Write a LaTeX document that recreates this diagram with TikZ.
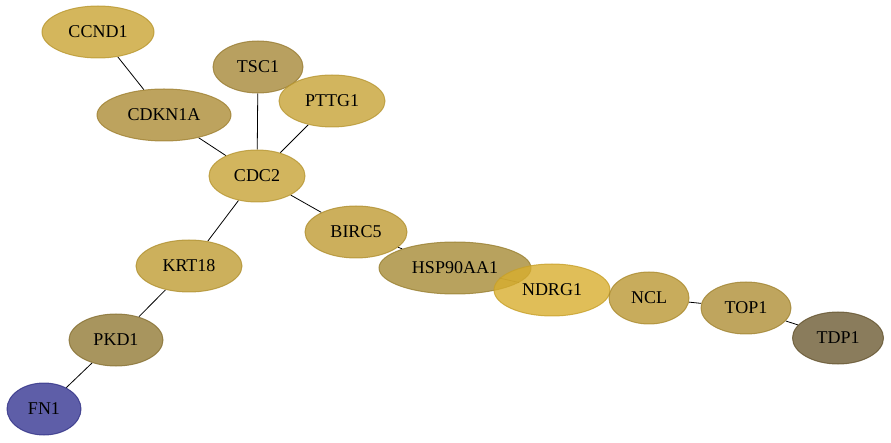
\documentclass[tikz,border=0pt]{standalone}
\usepackage{fontspec}
\setmainfont{Liberation Serif}
\usetikzlibrary{shapes.geometric, backgrounds}

\definecolor{cCCND1}{RGB}{201,164,51}
\definecolor{cTSC1}{RGB}{166,136,56}
\definecolor{cPTTG1}{RGB}{199,163,54}
\definecolor{cCDKN1A}{RGB}{173,140,54}
\definecolor{cCDC2}{RGB}{199,163,54}
\definecolor{cBIRC5}{RGB}{191,155,51}
\definecolor{cHSP}{RGB}{166,139,54}
\definecolor{cNDRG1}{RGB}{216,174,46}
\definecolor{cNCL}{RGB}{186,151,51}
\definecolor{cTOP1}{RGB}{175,143,54}
\definecolor{cTDP1}{RGB}{109,91,51}
\definecolor{cKRT18}{RGB}{191,156,51}
\definecolor{cPKD1}{RGB}{146,122,54}
\definecolor{cFN1}{RGB}{54,54,146}

\begin{document}
\begin{tikzpicture}[x=1pt, y=-1pt, gene/.style={ellipse, inner sep=0pt, minimum height=52pt, fill opacity=0.8, draw opacity=0.8, text opacity=1, line width=1pt, font=\fontsize{18}{20}\selectfont}]

            \useasboundingbox (0,0) rectangle (891,443);

            \node[gene, fill=cCCND1, draw=cCCND1!92!black, minimum width=112pt] (CCND1) at (98,32) {CCND1};
            \node[gene, fill=cTSC1, draw=cTSC1!92!black, minimum width=90pt] (TSC1) at (258,67) {TSC1};
            \node[gene, fill=cPTTG1, draw=cPTTG1!92!black, minimum width=106pt] (PTTG1) at (332,101) {PTTG1};
            \node[gene, fill=cCDKN1A, draw=cCDKN1A!92!black, minimum width=134pt] (CDKN1A) at (164,115) {CDKN1A};
            \node[gene, fill=cCDC2, draw=cCDC2!92!black, minimum width=96pt] (CDC2) at (257,176) {CDC2};
            \node[gene, fill=cBIRC5, draw=cBIRC5!92!black, minimum width=102pt] (BIRC5) at (356,232) {BIRC5};
            \node[gene, fill=cHSP, draw=cHSP!92!black, minimum width=152pt] (HSP90AA1) at (455,268) {HSP90AA1};
            \node[gene, fill=cNDRG1, draw=cNDRG1!92!black, minimum width=116pt] (NDRG1) at (552,290) {NDRG1};
            \node[gene, fill=cNCL, draw=cNCL!92!black, minimum width=80pt] (NCL) at (649,298) {NCL};
            \node[gene, fill=cTOP1, draw=cTOP1!92!black, minimum width=90pt] (TOP1) at (746,308) {TOP1};
            \node[gene, fill=cTDP1, draw=cTDP1!92!black, minimum width=91pt] (TDP1) at (838,338) {TDP1};
            \node[gene, fill=cKRT18, draw=cKRT18!92!black, minimum width=106pt] (KRT18) at (189,266) {KRT18};
            \node[gene, fill=cPKD1, draw=cPKD1!92!black, minimum width=94pt] (PKD1) at (116,340) {PKD1};
            \node[gene, fill=cFN1, draw=cFN1!92!black, minimum width=74pt] (FN1) at (44,409) {FN1};

            \begin{scope}[on background layer]
            \path[-, line width=0.8pt]
            (CCND1) edge (CDKN1A)
            (CDKN1A) edge (CDC2)
            (TSC1) edge (CDC2)
            (PTTG1) edge (CDC2)
            (CDC2) edge (BIRC5)
            (CDC2) edge (KRT18)
            (KRT18) edge (PKD1)
            (PKD1) edge (FN1)
            (BIRC5) edge (HSP90AA1)
            (HSP90AA1) edge (NDRG1)
            (NDRG1) edge (NCL)
            (NCL) edge (TOP1)
            (TOP1) edge (TDP1)
            ;
            \end{scope}

        \end{tikzpicture}
\end{document}
